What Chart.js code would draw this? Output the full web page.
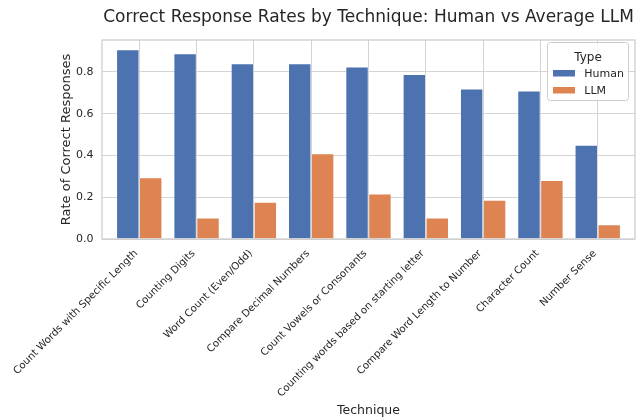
<!DOCTYPE html>
<html>
<head>
<meta charset="utf-8">
<script src="https://cdn.jsdelivr.net/npm/chart.js@4.4.1/dist/chart.umd.min.js"></script>
<style>
  html, body { margin: 0; padding: 0; background: #ffffff; }
  #wrap { width: 636px; height: 419px; }
</style>
</head>
<body>
<div id="wrap"><canvas id="c" width="636" height="419"></canvas></div>
<script>
const chartTitle = 'Correct Response Rates by Technique: Human vs Average LLM';
const categories = [
  'Count Words with Specific Length',
  'Counting Digits',
  'Word Count (Even/Odd)',
  'Compare Decimal Numbers',
  'Count Vowels or Consonants',
  'Counting words based on starting letter',
  'Compare Word Length to Number',
  'Character Count',
  'Number Sense'
];
const seriesNames = ['Human', 'LLM'];
const humanRates = [0.907, 0.888, 0.841, 0.840, 0.825, 0.789, 0.720, 0.710, 0.450];
const llmRates   = [0.294, 0.102, 0.177, 0.409, 0.217, 0.102, 0.187, 0.281, 0.070];
const yTicks = [0.0, 0.2, 0.4, 0.6, 0.8];
const legendTitle = 'Type';
const xAxisTitle = 'Technique';
const yAxisTitle = 'Rate of Correct Responses';

const TEXT = '#262626';
const GRID = '#d4d4d4';
const FRAME = '#cccccc';
const FONT = '"DejaVu Sans", sans-serif';

const framePlugin = {
  id: 'frame',
  afterDatasetsDraw(chart) {
    const {ctx, chartArea: a} = chart;
    ctx.save();
    ctx.strokeStyle = FRAME;
    ctx.lineWidth = 1.25;
    ctx.strokeRect(a.left, a.top, a.right - a.left, a.bottom - a.top);
    ctx.restore();
  },
  afterDraw(chart) {
    const {ctx, chartArea: a} = chart;
    ctx.save();
    // Title
    ctx.fillStyle = TEXT;
    ctx.font = '17px ' + FONT;
    ctx.textAlign = 'center';
    ctx.textBaseline = 'alphabetic';
    ctx.fillText(chartTitle, (a.left + a.right) / 2, 22.3);
    // Legend
    const bx = 547.5, by = 42.5, bw = 81, bh = 58;
    ctx.beginPath();
    if (ctx.roundRect) ctx.roundRect(bx, by, bw, bh, 3); else ctx.rect(bx, by, bw, bh);
    ctx.fillStyle = 'rgba(255,255,255,0.8)';
    ctx.fill();
    ctx.strokeStyle = FRAME;
    ctx.lineWidth = 1;
    ctx.stroke();
    ctx.fillStyle = TEXT;
    ctx.font = '12px ' + FONT;
    ctx.textAlign = 'center';
    ctx.fillText(legendTitle, bx + bw / 2, 60.6);
    const rows = [{y: 70, base: 77}, {y: 87, base: 94}];
    chart.data.datasets.forEach((ds, i) => {
      ctx.fillStyle = ds.backgroundColor;
      ctx.fillRect(553, rows[i].y, 22, 6.5);
      ctx.fillStyle = TEXT;
      ctx.font = '11px ' + FONT;
      ctx.textAlign = 'left';
      ctx.fillText(ds.label, 584.3, rows[i].base);
    });
    ctx.restore();
  }
};

const toPoints = arr => arr.map((v, i) => ({x: i, y: v}));

new Chart(document.getElementById('c'), {
  type: 'bar',
  data: {
    datasets: [
      { label: seriesNames[0], data: toPoints(humanRates), backgroundColor: '#4c72b0',
        borderColor: 'rgba(255,255,255,0.35)', borderWidth: 0.75,
        categoryPercentage: 0.8, barPercentage: 1.0 },
      { label: seriesNames[1], data: toPoints(llmRates), backgroundColor: '#dd8452',
        borderColor: 'rgba(255,255,255,0.35)', borderWidth: 0.75,
        categoryPercentage: 0.8, barPercentage: 1.0 }
    ]
  },
  options: {
    responsive: false,
    animation: false,
    layout: { padding: { top: 40, right: 1, left: 0, bottom: 0 } },
    plugins: {
      legend: { display: false },
      title: { display: false },
      tooltip: { enabled: false }
    },
    scales: {
      x: {
        type: 'linear',
        offset: false,
        min: -0.65,
        max: 8.65,
        afterBuildTicks: s => { s.ticks = categories.map((c, i) => ({value: i})); },
        afterFit: s => { s.height = 180; },
        grid: { color: GRID, lineWidth: 1, drawTicks: false, offset: false },
        border: { display: false },
        ticks: {
          autoSkip: false,
          minRotation: 45,
          maxRotation: 45,
          padding: 8.5,
          labelOffset: -3,
          color: TEXT,
          font: { family: FONT, size: 10.2 },
          callback: v => categories[v]
        },
        title: {
          display: true,
          text: xAxisTitle,
          color: TEXT,
          font: { family: FONT, size: 12.5 },
          padding: { top: 0, bottom: 1 }
        }
      },
      y: {
        min: 0,
        max: 0.953,
        afterBuildTicks: s => { s.ticks = yTicks.map(v => ({value: v})); },
        afterFit: s => { s.width = 102; },
        grid: { color: GRID, lineWidth: 1, drawTicks: false },
        border: { display: false },
        ticks: {
          padding: 8.5,
          color: TEXT,
          font: { family: FONT, size: 11 },
          callback: v => Number(v).toFixed(1)
        },
        title: {
          display: true,
          text: yAxisTitle,
          color: TEXT,
          font: { family: FONT, size: 13 },
          padding: { top: 58.4, bottom: 0 }
        }
      }
    }
  },
  plugins: [framePlugin]
});
</script>
</body>
</html>
